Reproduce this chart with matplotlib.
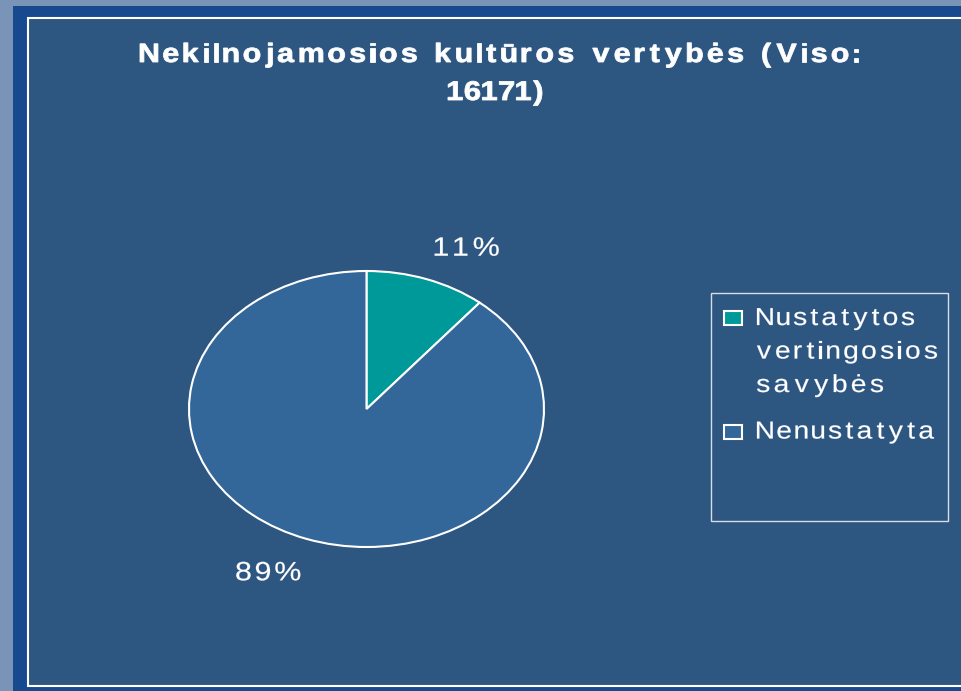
import matplotlib
matplotlib.use('Agg')
import matplotlib.pyplot as plt
import numpy as np
from matplotlib.patches import Rectangle, PathPatch
from matplotlib.font_manager import FontProperties
from matplotlib.textpath import TextPath
from matplotlib.transforms import IdentityTransform, Affine2D

W, H = 962, 691

# data
title_lines = ['Nekilnojamosios kultūros vertybės (Viso:', '16171)']
categories = ['Nustatytos\nvertingosios\nsavybės', 'Nenustatyta']
shares = [11, 89]
colors = ['#009999', '#336699']

panel_color = '#2D5681'

fig = plt.figure(figsize=(W / 100, H / 100), dpi=100)
fig.patch.set_facecolor('#7A94B7')


# rectangle in pixel coords, measured from the top-left corner
def px_rect(x0, y0, x1, y1, zorder=-10, **kw):
    r = Rectangle((x0, H - y1), x1 - x0, y1 - y0, transform=IdentityTransform(),
                  zorder=zorder, **kw)
    fig.add_artist(r)


# the original text is widened and widely tracked, so draw glyph outlines
# one by one, stretched by sx, and spread to the wanted width
def spaced(x, y, s, size, width, weight='normal', ha='left', sx=1.15, lw=0.15):
    prop = FontProperties(family='Liberation Sans', weight=weight)
    glyphs = []
    for c in s:
        if c == ' ':
            glyphs.append((None, 0.0, 0.278 * size * sx))
        else:
            tp = TextPath((0, 0), c, size=size, prop=prop)
            ext = tp.get_extents()
            glyphs.append((tp, ext.x0, (ext.x1 - ext.x0) * sx))
    ink = sum(g[2] for g in glyphs)
    gap = (width - ink) / (len(s) - 1)
    cx = x - width / 2 if ha == 'center' else x
    for tp, x0, w in glyphs:
        if tp is not None:
            tr = Affine2D().translate(-x0, 0).scale(sx, 1).translate(cx, H - y)
            fig.add_artist(PathPatch(tr.transform_path(tp), facecolor='white',
                                     edgecolor='white', linewidth=lw,
                                     transform=IdentityTransform(), zorder=10))
        cx += w + gap


# background frames
px_rect(13, 6, W + 5, H + 5, facecolor='#17498F', edgecolor='none')
px_rect(28, 18, W + 5, 686, facecolor=panel_color, edgecolor='white', linewidth=1.5)

# title
spaced(499, 62, title_lines[0], 26.5, 718, weight='bold', ha='center', lw=0.6)
spaced(495, 100, title_lines[1], 27, 94, weight='bold', ha='center', lw=0.6)

# pie (elliptical, like the original)
ax = fig.add_axes([189 / W, (H - 547) / H, 355 / W, 276 / H])
wedges, _ = ax.pie(shares, colors=colors, startangle=90, counterclock=False,
                   wedgeprops=dict(edgecolor='white', linewidth=1.5))
ax.set_aspect('auto')
ax.set_xlim(-1, 1)
ax.set_ylim(-1, 1)
ax.axis('off')

for w, v in zip(wedges, shares):
    mid = np.deg2rad((w.theta1 + w.theta2) / 2)
    dx, dy = ax.transData.transform((1.65 * np.cos(mid), 1.25 * np.sin(mid)))
    spaced(dx + 1, H - dy + 9, f'{v}%', 26.5, 64, ha='center')

# legend
px_rect(711, 293, 948, 521, zorder=3, facecolor=panel_color, edgecolor='#D8DEE6', linewidth=1)
line_widths = {'Nustatytos': 157, 'vertingosios': 180, 'savybės': 126, 'Nenustatyta': 177}
y = 325
for cat, col in zip(categories, colors):
    lines = cat.split('\n')
    px_rect(724, y - 14, 742, y, zorder=5, facecolor=col, edgecolor='white', linewidth=1.5)
    for k, line in enumerate(lines):
        spaced(757, y + k * 33.5, line, 24.5, line_widths[line])
    y += len(lines) * 33.5 + 13

plt.savefig('out.png', dpi=100, facecolor=fig.get_facecolor())
plt.close()
